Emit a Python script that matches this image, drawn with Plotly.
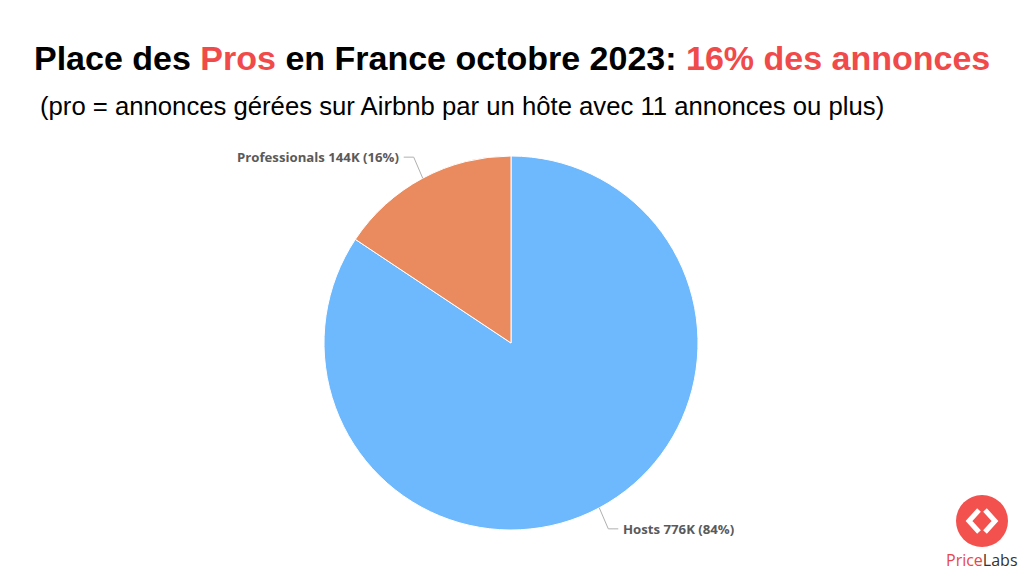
import math
import plotly.graph_objects as go

labels = ["Hosts", "Professionals"]
values = [776, 144]          # thousands of listings
pct = [84, 16]
colors = ["#6EB8FE", "#E98B5E"]

W, H = 1024, 576
cx, cy, R = 511, 343, 187   # pixel geometry of the pie

def px(x): return x / W
def py(y): return 1 - y / H

fig = go.Figure(go.Pie(
    labels=labels, values=values, sort=False, direction="clockwise", rotation=0,
    marker=dict(colors=colors, line=dict(color="white", width=1)),
    textinfo="none", hoverinfo="label+value+percent", showlegend=False,
    domain=dict(x=[px(cx - R), px(cx + R)], y=[py(cy + R), py(cy - R)]),
))

shapes = []
annotations = []

# leader lines and labels from slice mid-angles
total = sum(values)
start = 0.0
for i, (lab, v, p) in enumerate(zip(labels, values, pct)):
    frac = v / total
    mid = (start + frac / 2) * 2 * math.pi
    start += frac
    ex = cx + R * math.sin(mid)
    ey = cy - R * math.cos(mid)
    side = 1 if math.sin(mid) > 0 else -1
    vert = 1 if math.cos(mid) < 0 else -1
    kx = ex + side * 9
    ky = ey + vert * 21
    hx = kx + side * 10
    shapes.append(dict(type="path", xref="paper", yref="paper",
                       path=f"M {px(ex)},{py(ey)} L {px(kx)},{py(ky)} L {px(hx)},{py(ky)}",
                       line=dict(color="#B0B0B0", width=1)))
    annotations.append(dict(
        x=px(hx + side * 3), y=py(ky), xref="paper", yref="paper",
        xanchor="left" if side > 0 else "right", yanchor="middle",
        text=f"<b>{lab} {v}K ({p}%)</b>", showarrow=False,
        font=dict(family="Open Sans, sans-serif", size=13.2, color="#5A5A5A")))

# Title and subtitle
annotations.append(dict(
    x=px(512), y=py(58), xref="paper", yref="paper", xanchor="center", yanchor="middle",
    text="<b>Place des <span style='color:#F04A4A'>Pros</span> en France octobre 2023: "
         "<span style='color:#F04A4A'>16% des annonces</span></b>",
    showarrow=False, font=dict(family="Liberation Sans, Arial, sans-serif", size=34, color="#000000")))
annotations.append(dict(
    x=px(38), y=py(106), xref="paper", yref="paper", xanchor="left", yanchor="middle",
    text="(pro = annonces gérées sur Airbnb par un hôte avec 11 annonces ou plus)",
    showarrow=False, font=dict(family="Liberation Sans, Arial, sans-serif", size=25.7, color="#000000")))

# PriceLabs logo
lx, ly, lr = 982, 521, 26
shapes.append(dict(type="circle", xref="paper", yref="paper",
                   x0=px(lx - lr), x1=px(lx + lr), y0=py(ly + lr), y1=py(ly - lr),
                   fillcolor="#F2514E", line=dict(width=0)))
for s in (-1, 1):
    shapes.append(dict(type="path", xref="paper", yref="paper",
                       path=f"M {px(lx + s*3)},{py(ly - 11)} L {px(lx + s*13)},{py(ly)} L {px(lx + s*3)},{py(ly + 11)}",
                       line=dict(color="white", width=5)))
annotations.append(dict(
    x=px(982), y=py(560), xref="paper", yref="paper", xanchor="center", yanchor="middle",
    text="<span style='color:#E8474A'>Price</span><span style='color:#333333'>Labs</span>",
    showarrow=False, font=dict(family="Open Sans, sans-serif", size=16)))

fig.update_layout(width=W, height=H, margin=dict(l=0, r=0, t=0, b=0),
                  paper_bgcolor="white", plot_bgcolor="white",
                  shapes=shapes, annotations=annotations)
fig.write_html("out.html")
